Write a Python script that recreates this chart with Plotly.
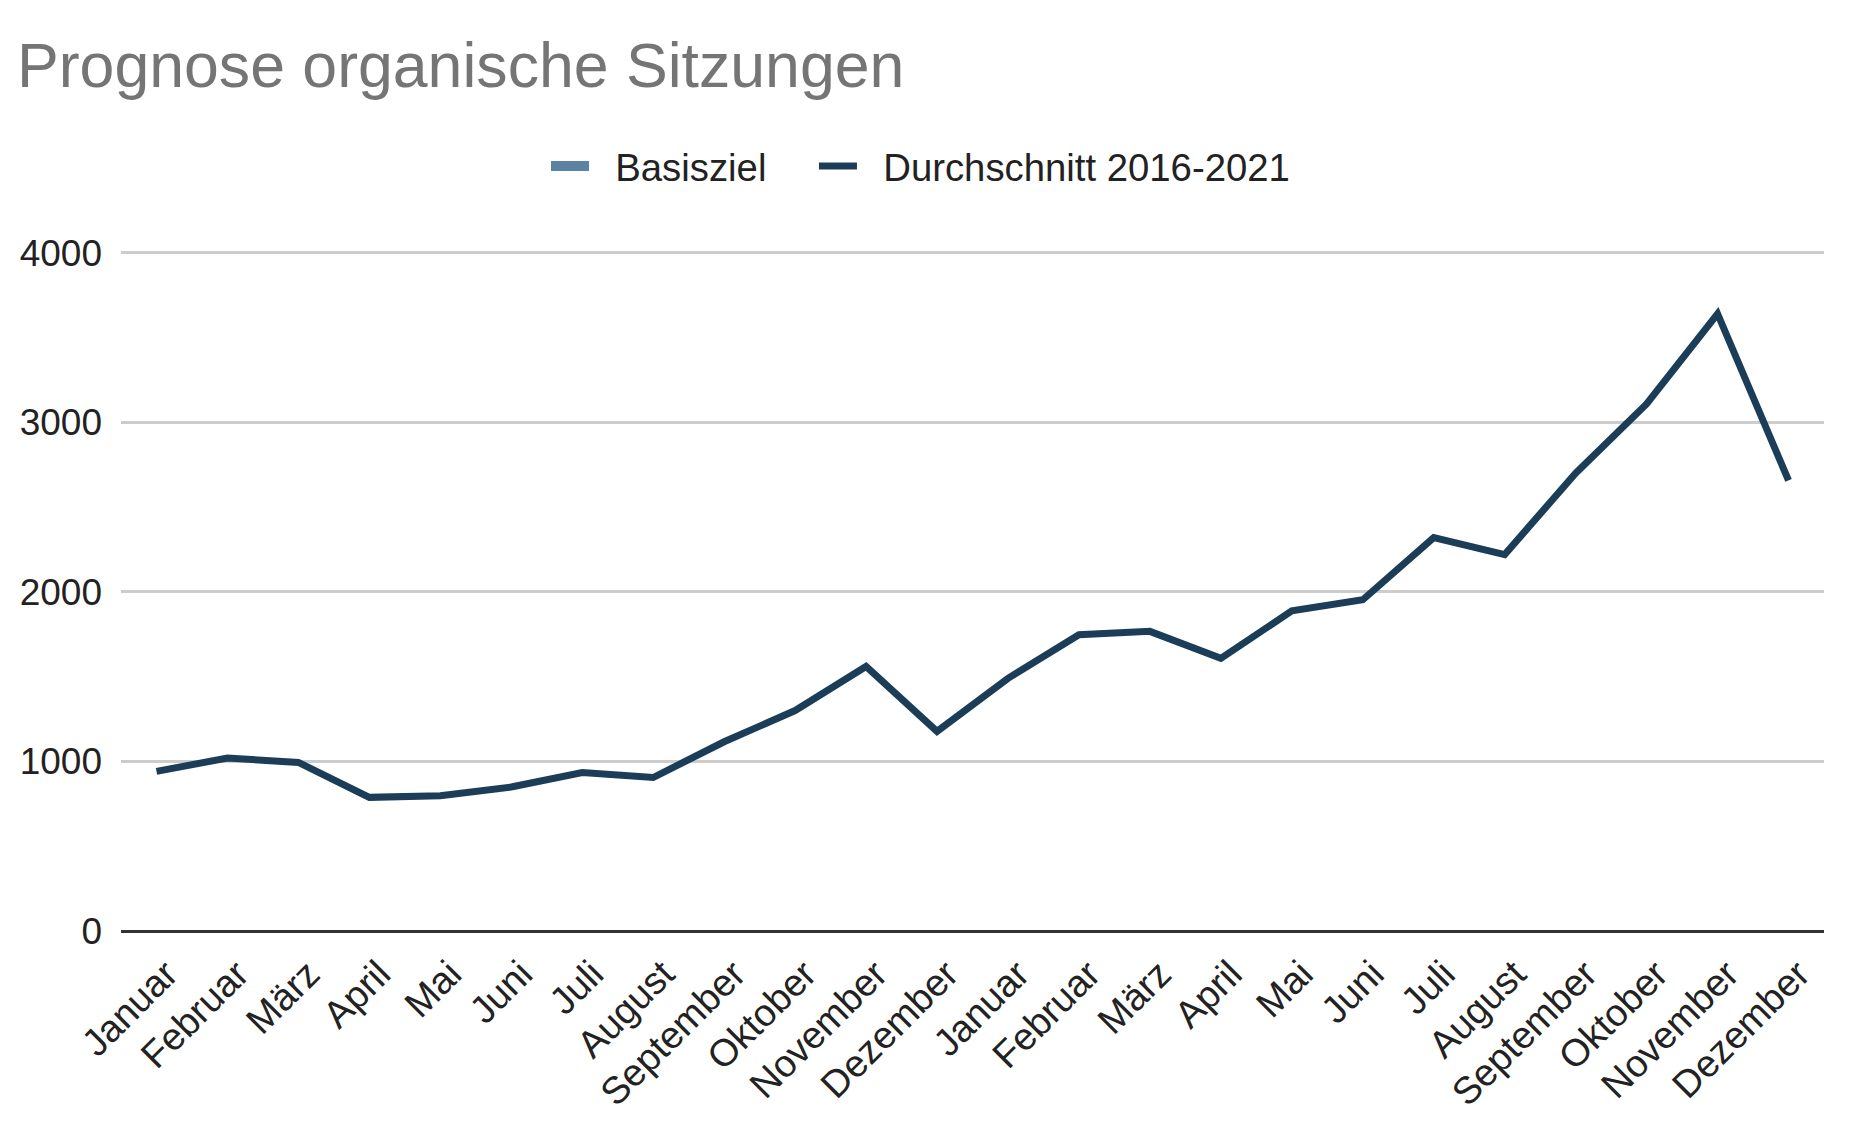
import plotly.graph_objects as go

months = ["Januar", "Februar", "März", "April", "Mai", "Juni", "Juli", "August",
          "September", "Oktober", "November", "Dezember",
          "Januar", "Februar", "März", "April", "Mai", "Juni", "Juli", "August",
          "September", "Oktober", "November", "Dezember"]
durchschnitt = [941, 1020, 994, 788, 798, 849, 934, 905, 1116, 1300, 1560, 1177,
                1490, 1747, 1767, 1608, 1888, 1953, 2320, 2220, 2700, 3108, 3640, 2657]
basisziel = [None] * 24
y_ticks = [0, 1000, 2000, 3000, 4000]
series_names = ["Basisziel", "Durchschnitt 2016-2021"]

x_idx = list(range(len(months)))
FONT = "Liberation Sans, Arial, sans-serif"
W, H = 1846, 1132
NB = "\u00a0"

fig = go.Figure()
fig.add_trace(go.Scatter(x=x_idx, y=basisziel, name=NB * 2 + series_names[0] + NB * 4,
                         mode="lines", line=dict(color="#5b84a4", width=10)))
fig.add_trace(go.Scatter(x=x_idx, y=durchschnitt, name=NB * 2 + series_names[1],
                         mode="lines", line=dict(color="#1c3d58", width=7)))

fig.update_layout(
    width=W, height=H,
    margin=dict(l=111, r=30, t=243, b=209, pad=0),
    paper_bgcolor="white", plot_bgcolor="white",
    font=dict(family=FONT, size=37, color="#222222"),
    title=dict(text="Prognose organische Sitzungen", x=9/W, xanchor="left",
               xref="container", yref="container", y=1-57/H, yanchor="middle",
               font=dict(family=FONT, size=62.6, color="#757575")),
    showlegend=True,
    legend=dict(orientation="h", xref="container", yref="container",
                x=538/W, xanchor="left", y=1-158/H, yanchor="middle",
                itemwidth=38,
                font=dict(family=FONT, size=38.3, color="#222222"), bgcolor="rgba(0,0,0,0)"),
    xaxis=dict(tickmode="array", tickvals=x_idx, ticktext=months, tickangle=-45,
               range=[-0.5, len(months) - 0.5], showgrid=False, zeroline=False,
               showline=False, ticks="", ticklabelstandoff=12, ticklabelshift=10,
               tickfont=dict(size=38, color="#222222")),
    yaxis=dict(range=[0, 4010], tickvals=y_ticks, showgrid=True, gridcolor="#cccccc",
               gridwidth=2.5, zeroline=True, zerolinecolor="#333333", zerolinewidth=3,
               showline=False, ticks="", ticklabelstandoff=18,
               tickfont=dict(size=37, color="#222222")),
)

fig.write_html("out.html")
